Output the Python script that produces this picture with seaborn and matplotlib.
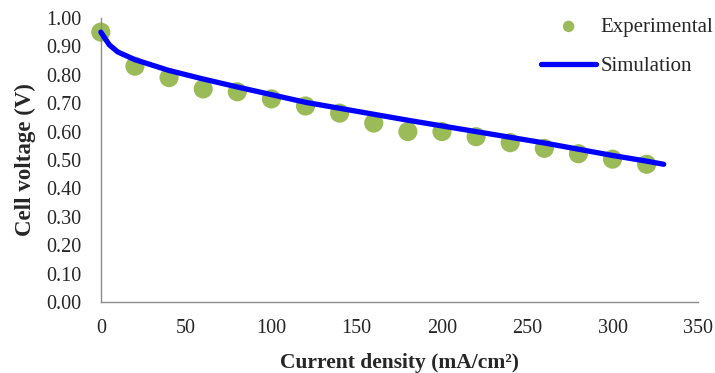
import matplotlib
matplotlib.use("Agg")
import matplotlib.pyplot as plt
import seaborn as sns
import pandas as pd

exp_current = [0, 20, 40, 60, 80, 100, 120, 140, 160, 180, 200, 220, 240, 260, 280, 300, 320]
exp_voltage = [0.95, 0.83, 0.79, 0.75, 0.74, 0.715, 0.69, 0.665, 0.63, 0.60, 0.60, 0.582, 0.561, 0.541, 0.522, 0.503, 0.485]

sim_current = [0, 5, 10, 20, 40, 60, 80, 100, 120, 140, 160, 180, 200, 220, 240, 260, 280, 300, 320, 330]
sim_voltage = [0.95, 0.905, 0.88, 0.853, 0.815, 0.785, 0.757, 0.73, 0.703, 0.682, 0.661, 0.64, 0.62, 0.60, 0.58, 0.56, 0.538, 0.516, 0.496, 0.485]

x_ticks = [0, 50, 100, 150, 200, 250, 300, 350]
y_ticks = [0.0, 0.1, 0.2, 0.3, 0.4, 0.5, 0.6, 0.7, 0.8, 0.9, 1.0]

sns.set_style("white")
plt.rcParams['font.family'] = ['Liberation Serif', 'DejaVu Serif']

exp_df = pd.DataFrame({"x": exp_current, "y": exp_voltage})
sim_df = pd.DataFrame({"x": sim_current, "y": sim_voltage})

fig = plt.figure(figsize=(7.15, 3.73), dpi=100)
ax = fig.add_axes([0.141, 0.190, 0.835, 0.762])

sns.scatterplot(data=exp_df, x="x", y="y", ax=ax, color="#9BBB59", s=190,
                edgecolor="none", label="Experimental", zorder=2, clip_on=False)
sns.lineplot(data=sim_df, x="x", y="y", ax=ax, color="#0000FF", linewidth=3.8,
             label="Simulation", zorder=3, solid_capstyle="round", clip_on=False)

ax.set_xlim(0, 350)
ax.set_ylim(0, 1.0)
ax.set_xticks(x_ticks)
ax.set_yticks(y_ticks)
ax.set_yticklabels([f"{v:.2f}" for v in y_ticks])
ax.tick_params(axis="y", labelsize=14.5, length=0, pad=14)
ax.tick_params(axis="x", labelsize=14.5, length=0, pad=12)
ax.set_xlabel("Current density (mA/cm²)", fontsize=15.5, fontweight="bold", labelpad=11)
ax.set_ylabel("Cell voltage (V)", fontsize=16.5, fontweight="bold", labelpad=7)

for s in ["top", "right"]:
    ax.spines[s].set_visible(False)
for s in ["left", "bottom"]:
    ax.spines[s].set_color("#8C8C8C")
    ax.spines[s].set_linewidth(1.0)

leg = ax.legend(loc="upper left", bbox_to_anchor=(0.745, 0.976), bbox_transform=fig.transFigure,
                borderaxespad=0, frameon=False, fontsize=15,
                handlelength=2.65, handletextpad=0.2, labelspacing=0.95, markerscale=0.6)

fig.savefig("out.png", dpi=100)
